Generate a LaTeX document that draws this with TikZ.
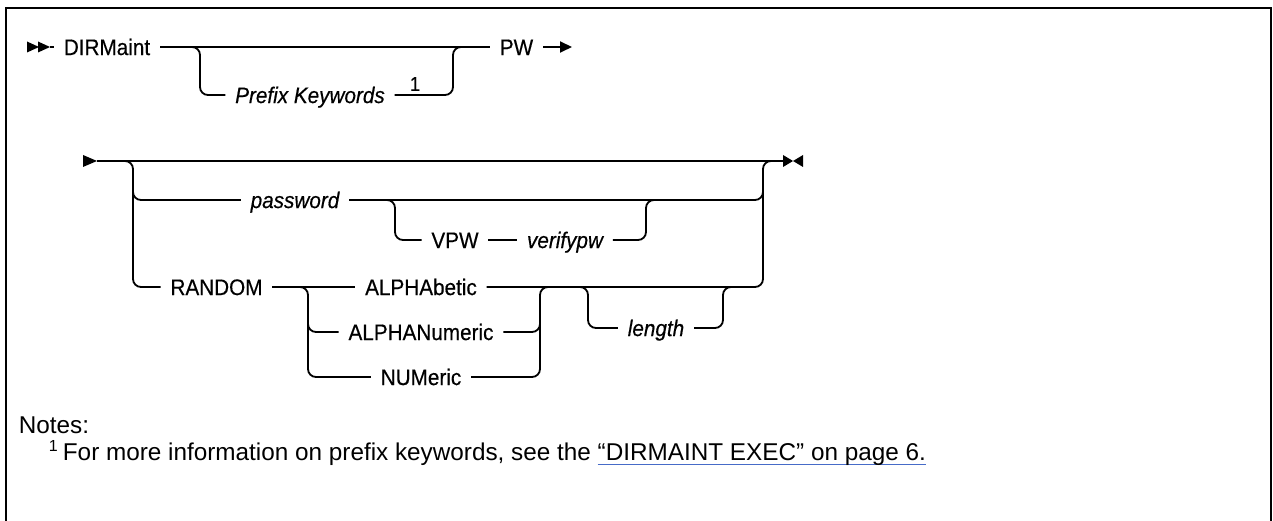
\documentclass[tikz,border=0pt]{standalone}
\usepackage{fontspec}
\setmainfont{Liberation Sans}
\newfontfamily\dfam[FakeStretch=0.92,FakeBold=0.4]{Liberation Sans}
\usetikzlibrary{arrows.meta}
\definecolor{linkblue}{RGB}{70,107,200}
\newcommand\dfont{\dfam\fontsize{22.5}{26}\selectfont}
\newcommand\nfont{\fontsize{24.3}{28}\selectfont}
\newcommand\bul[1]{\setbox0\hbox{#1}\rlap{\color{linkblue}\rule[-5pt]{\wd0}{1pt}}\box0}
\begin{document}
\begin{tikzpicture}[x=1pt,y=-1pt, line width=1.8pt,
  kw/.style={font=\dfont, inner xsep=9pt, inner ysep=0pt, text height=16.1pt, text depth=0pt},
  var/.style={kw, font=\dfont\itshape},
  rc/.style={rounded corners=8pt},
  sup/.style={font=\dfam\fontsize{20}{20}\selectfont, inner sep=0pt},
  note/.style={font=\nfont, anchor=base west, inner sep=0pt}]
\useasboundingbox (0,0) rectangle (1273,521);
% frame
\draw[line width=2.6pt] (6,521) -- (6,8) -- (1271,8) -- (1271,521);
% ---------- row 1 ----------
\fill (27,41.5) -- (39,47) -- (27,52.5) -- cycle;
\fill (38,41.5) -- (50,47) -- (38,52.5) -- cycle;
\coordinate (s1) at (50,47);
\node[kw] (dirm) at (107,47) {DIRMaint};
\node[var] (pk) at (310,95) {Prefix Keywords};
\node[sup] (n1) at (415,84) {1};
\node[kw] (pw) at (516.5,47) {PW};
\coordinate (b1) at (192,47);
\coordinate (m1) at (461,47);
\coordinate (a1) at (572,47);
\draw (s1) -- (dirm.west);
\draw (dirm.east) -- (pw.west);
\draw[rc] (b1) -- (200,47) -- (200,95) -- (pk.west);
\draw[rc] (pk.east) -- (453,95) -- (453,47) -- (m1);
\draw[-{Triangle[length=12pt,width=11pt]}] (pw.east) -- (a1);
% ---------- row 2 ----------
\fill (83,155) -- (97,161) -- (83,167) -- cycle;
\fill (783,155) -- (793,161) -- (783,167) -- cycle;
\fill (803,155) -- (793,161) -- (803,167) -- cycle;
\coordinate (s2) at (97,161);
\coordinate (e2) at (783,161);
\node[var] (pwd) at (295,200) {password};
\node[kw] (vpw) at (455,240) {VPW};
\node[var] (verif) at (565,240) {verifypw};
\node[kw] (rand) at (216.5,287) {RANDOM};
\node[kw] (alpha) at (421,287) {ALPHAbetic};
\node[kw] (alnum) at (421,332) {ALPHANumeric};
\node[kw] (numer) at (421,377) {NUMeric};
\node[var] (len) at (656,328) {length};
\coordinate (j1) at (125,161);
\coordinate (j2) at (133,192);
\coordinate (j3) at (763,192);
\coordinate (j4) at (387,200);
\coordinate (j5) at (654,200);
\coordinate (j6) at (300,287);
\coordinate (j7) at (308,324);
\coordinate (j8) at (548,287);
\coordinate (j9) at (540,324);
\coordinate (j10) at (771,161);
\coordinate (j11) at (580,287);
\coordinate (j12) at (731,287);
\draw (s2) -- (e2);
\draw[rc] (j1) -- (133,161) -- (133,287) -- (rand.west);
\draw[rc] (j2) -- (133,200) -- (pwd.west);
\draw[rc] (pwd.east) -- (763,200) -- (j3);
\draw[rc] (j4) -- (395,200) -- (395,240) -- (vpw.west);
\draw (vpw.east) -- (verif.west);
\draw[rc] (verif.east) -- (646,240) -- (646,200) -- (j5);
\draw (rand.east) -- (alpha.west);
\draw[rc] (j6) -- (308,287) -- (308,377) -- (numer.west);
\draw[rc] (j7) -- (308,332) -- (alnum.west);
\draw[rc] (numer.east) -- (540,377) -- (540,287) -- (j8);
\draw[rc] (alnum.east) -- (540,332) -- (j9);
\draw[rc] (alpha.east) -- (763,287) -- (763,161) -- (j10);
\draw[rc] (j11) -- (588,287) -- (588,328) -- (len.west);
\draw[rc] (len.east) -- (723,328) -- (723,287) -- (j12);
% ---------- notes ----------
\node[note] (notes) at (18,433) {Notes:};
\node[note, font=\fontsize{16}{16}\selectfont] (fnm) at (48,451) {1};
\node[note] (fnt) at (62,460) {For more information on prefix keywords, see the \bul{“DIRMAINT EXEC” on page 6.}};
\end{tikzpicture}
\end{document}
